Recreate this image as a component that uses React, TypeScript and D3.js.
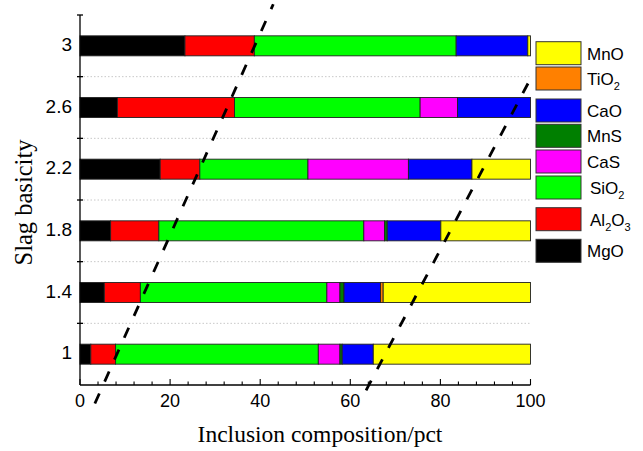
import React from 'react';
import * as d3 from 'd3';

const basicity = [1, 1.4, 1.8, 2.2, 2.6, 3];
const basicityLabels = ['1', '1.4', '1.8', '2.2', '2.6', '3'];
const components = ['MgO', 'Al2O3', 'SiO2', 'CaS', 'MnS', 'CaO', 'TiO2', 'MnO'];
const MgO = [2.4, 5.4, 6.8, 17.8, 8.3, 23.3];
const Al2O3 = [5.5, 8.0, 10.7, 8.8, 26.0, 15.4];
const SiO2 = [45.0, 41.4, 45.5, 24.0, 41.2, 44.8];
const CaS = [4.8, 2.9, 4.6, 22.3, 8.3, 0];
const MnS = [0.5, 0.9, 0.6, 0, 0, 0];
const CaO = [6.9, 8.1, 11.9, 14.1, 16.2, 15.9];
const TiO2 = [0, 0.6, 0, 0, 0, 0];
const MnO = [34.9, 32.7, 19.9, 13.0, 0, 0.6];
const seriesValues: Record<string, number[]> = { MgO, Al2O3, SiO2, CaS, MnS, CaO, TiO2, MnO };
const colors: Record<string, string> = {
  MgO: '#000000', Al2O3: '#ff0000', SiO2: '#00ff00', CaS: '#ff00ff',
  MnS: '#007f00', CaO: '#0000ff', TiO2: '#ff8000', MnO: '#ffff00',
};
const xTicks = [0, 20, 40, 60, 80, 100];
const xMinorTicks = d3.range(0, 101, 4);
const yBoundaryTicks = [1.2, 1.6, 2.0, 2.4, 2.8, 3.2];
const gridLines = [1.2, 1.6, 2.0, 2.4, 2.8];
const dashLeft = [{ x: 3.3, y: 0.68 }, { x: 42.9, y: 3.27 }];
const dashRight = [{ x: 63.5, y: 0.765 }, { x: 99.7, y: 2.77 }];

// legend (top to bottom)
const legendItems = [
  { key: 'MnO', base: 'MnO', sub: [] as string[] },
  { key: 'TiO2', base: 'TiO', sub: ['2'] },
  { key: 'CaO', base: 'CaO', sub: [] },
  { key: 'MnS', base: 'MnS', sub: [] },
  { key: 'CaS', base: 'CaS', sub: [] },
  { key: 'SiO2', base: 'SiO', sub: ['2'] },
  { key: 'Al2O3', base: 'Al', sub: ['2', 'O', '3'] },
  { key: 'MgO', base: 'MgO', sub: [] },
];
const legendTops = [41.7, 67, 99, 124.3, 150, 176, 207.7, 239.3];
const legendTextDx = [0, 0, 0, 0, 0, 3, 3, 0];

export default function App() {
  const W = 643, H = 451;
  const x = d3.scaleLinear().domain([0, 100]).range([80, 530.5]);
  const y = d3.scaleLinear().domain([0.8, 3.2]).range([385, 15]);
  const barH = 20;

  const table = basicity.map((b, i) => {
    const row: any = { b };
    components.forEach((c) => (row[c] = seriesValues[c][i]));
    return row;
  });
  const stacked = d3.stack().keys(components)(table as any);
  const line = d3.line<{ x: number; y: number }>().x((d) => x(d.x)).y((d) => y(d.y));
  const sans = '"Liberation Sans", Arial, sans-serif';
  const serif = '"Liberation Serif", "Times New Roman", serif';

  return (
    <svg width={W} height={H} style={{ position: 'absolute', left: 0, top: 0, background: '#fff' }}>
      <rect x={0} y={0} width={W} height={H} fill="#fff" />
      {gridLines.map((g) => (
        <line key={g} x1={x(0)} x2={x(100)} y1={y(g)} y2={y(g)} stroke="#c8c8c8" strokeWidth={1} strokeDasharray="1.5,2" />
      ))}
      {stacked.map((s) => (
        <g key={s.key}>
          {s.map((d, i) => {
            const w = x(d[1]) - x(d[0]);
            if (w <= 0) return null;
            return (
              <rect key={i} x={x(d[0])} y={y(basicity[i]) - barH / 2} width={w} height={barH}
                fill={colors[s.key]} stroke="#222" strokeWidth={0.9} />
            );
          })}
        </g>
      ))}
      {/* axes */}
      <line x1={x(0)} x2={x(0)} y1={y(3.2)} y2={y(0.8)} stroke="#000" strokeWidth={1.3} />
      <line x1={x(0)} x2={x(100)} y1={y(0.8)} y2={y(0.8)} stroke="#000" strokeWidth={1.3} />
      {yBoundaryTicks.map((t) => (
        <line key={t} x1={x(0) - 3} x2={x(0) + 3} y1={y(t)} y2={y(t)} stroke="#000" strokeWidth={1.3} />
      ))}
      {xMinorTicks.map((t) => (
        <line key={t} x1={x(t)} x2={x(t)} y1={y(0.8)} y2={y(0.8) - (t % 20 === 0 ? 6 : 3.5)} stroke="#000" strokeWidth={1.1} />
      ))}
      {xTicks.map((t) => (
        <text key={t} x={x(t)} y={407} textAnchor="middle" fontFamily={sans} fontSize={18} fill="#000">{t}</text>
      ))}
      {basicity.map((b, i) => (
        <text key={b} x={72} y={y(b) + 5} textAnchor="end" fontFamily={sans} fontSize={19} fill="#000">{basicityLabels[i]}</text>
      ))}
      <text x={320} y={441.5} textAnchor="middle" fontFamily={serif} fontSize={23.5} fill="#000">Inclusion composition/pct</text>
      <text transform="translate(31.5,202.5) rotate(-90)" textAnchor="middle" fontFamily={serif} fontSize={24.5} fill="#000">Slag basicity</text>
      {/* dashed guide lines */}
      <path d={line(dashLeft) || ''} fill="none" stroke="#000" strokeWidth={2.8} strokeDasharray="11,13" />
      <path d={line(dashRight) || ''} fill="none" stroke="#000" strokeWidth={2.8} strokeDasharray="11,13" />
      {/* legend */}
      {legendItems.map((it, i) => {
        const top = legendTops[i];
        return (
          <g key={it.key}>
            <rect x={536} y={top} width={45} height={23} fill={colors[it.key]} stroke="#333" strokeWidth={1} />
            <text x={587 + legendTextDx[i]} y={top + 18} fontFamily={sans} fontSize={17} fill="#000">
              {it.base}
              {it.sub.map((s, j) =>
                s === 'O' ? (
                  <tspan key={j} fontSize={17} dy={-5}>O</tspan>
                ) : (
                  <tspan key={j} fontSize={11} dy={5}>{s}</tspan>
                )
              )}
            </text>
          </g>
        );
      })}
    </svg>
  );
}
